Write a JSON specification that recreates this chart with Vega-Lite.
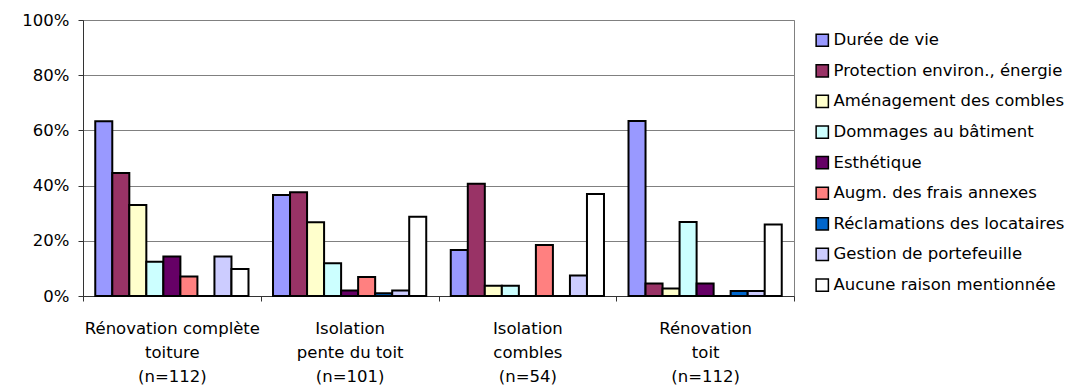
{
  "$schema": "https://vega.github.io/schema/vega-lite/v6.json",
  "width": 711,
  "height": 276,
  "autosize": {"type": "none"},
  "padding": {"left": 83, "top": 20, "right": 287, "bottom": 94},
  "background": "white",
  "config": {
    "font": "DejaVu Sans",
    "view": {"stroke": "#808080", "strokeWidth": 1},
    "axis": {
      "labelFont": "DejaVu Sans",
      "labelFontSize": 16.5,
      "labelColor": "black",
      "domainColor": "#333333",
      "tickColor": "#333333",
      "tickSize": 5,
      "title": null
    }
  },
  "data": {
    "values": [
      {"travaux": "Rénovation complète\ntoiture\n(n=112)", "raison": "Durée de vie", "part": 0.633},
      {"travaux": "Rénovation complète\ntoiture\n(n=112)", "raison": "Protection environ., énergie", "part": 0.446},
      {"travaux": "Rénovation complète\ntoiture\n(n=112)", "raison": "Aménagement des combles", "part": 0.330},
      {"travaux": "Rénovation complète\ntoiture\n(n=112)", "raison": "Dommages au bâtiment", "part": 0.124},
      {"travaux": "Rénovation complète\ntoiture\n(n=112)", "raison": "Esthétique", "part": 0.143},
      {"travaux": "Rénovation complète\ntoiture\n(n=112)", "raison": "Augm. des frais annexes", "part": 0.071},
      {"travaux": "Rénovation complète\ntoiture\n(n=112)", "raison": "Réclamations des locataires", "part": 0},
      {"travaux": "Rénovation complète\ntoiture\n(n=112)", "raison": "Gestion de portefeuille", "part": 0.143},
      {"travaux": "Rénovation complète\ntoiture\n(n=112)", "raison": "Aucune raison mentionnée", "part": 0.098},
      {"travaux": "Isolation\npente du toit\n(n=101)", "raison": "Durée de vie", "part": 0.366},
      {"travaux": "Isolation\npente du toit\n(n=101)", "raison": "Protection environ., énergie", "part": 0.376},
      {"travaux": "Isolation\npente du toit\n(n=101)", "raison": "Aménagement des combles", "part": 0.267},
      {"travaux": "Isolation\npente du toit\n(n=101)", "raison": "Dommages au bâtiment", "part": 0.119},
      {"travaux": "Isolation\npente du toit\n(n=101)", "raison": "Esthétique", "part": 0.020},
      {"travaux": "Isolation\npente du toit\n(n=101)", "raison": "Augm. des frais annexes", "part": 0.069},
      {"travaux": "Isolation\npente du toit\n(n=101)", "raison": "Réclamations des locataires", "part": 0.010},
      {"travaux": "Isolation\npente du toit\n(n=101)", "raison": "Gestion de portefeuille", "part": 0.020},
      {"travaux": "Isolation\npente du toit\n(n=101)", "raison": "Aucune raison mentionnée", "part": 0.287},
      {"travaux": "Isolation\ncombles\n(n=54)", "raison": "Durée de vie", "part": 0.167},
      {"travaux": "Isolation\ncombles\n(n=54)", "raison": "Protection environ., énergie", "part": 0.407},
      {"travaux": "Isolation\ncombles\n(n=54)", "raison": "Aménagement des combles", "part": 0.037},
      {"travaux": "Isolation\ncombles\n(n=54)", "raison": "Dommages au bâtiment", "part": 0.037},
      {"travaux": "Isolation\ncombles\n(n=54)", "raison": "Esthétique", "part": 0},
      {"travaux": "Isolation\ncombles\n(n=54)", "raison": "Augm. des frais annexes", "part": 0.185},
      {"travaux": "Isolation\ncombles\n(n=54)", "raison": "Réclamations des locataires", "part": 0},
      {"travaux": "Isolation\ncombles\n(n=54)", "raison": "Gestion de portefeuille", "part": 0.074},
      {"travaux": "Isolation\ncombles\n(n=54)", "raison": "Aucune raison mentionnée", "part": 0.370},
      {"travaux": "Rénovation\ntoit\n(n=112)", "raison": "Durée de vie", "part": 0.634},
      {"travaux": "Rénovation\ntoit\n(n=112)", "raison": "Protection environ., énergie", "part": 0.045},
      {"travaux": "Rénovation\ntoit\n(n=112)", "raison": "Aménagement des combles", "part": 0.027},
      {"travaux": "Rénovation\ntoit\n(n=112)", "raison": "Dommages au bâtiment", "part": 0.268},
      {"travaux": "Rénovation\ntoit\n(n=112)", "raison": "Esthétique", "part": 0.045},
      {"travaux": "Rénovation\ntoit\n(n=112)", "raison": "Augm. des frais annexes", "part": 0},
      {"travaux": "Rénovation\ntoit\n(n=112)", "raison": "Réclamations des locataires", "part": 0.018},
      {"travaux": "Rénovation\ntoit\n(n=112)", "raison": "Gestion de portefeuille", "part": 0.018},
      {"travaux": "Rénovation\ntoit\n(n=112)", "raison": "Aucune raison mentionnée", "part": 0.259}
    ]
  },
  "mark": {"type": "bar", "stroke": "black", "strokeWidth": 2},
  "encoding": {
    "x": {
      "field": "travaux",
      "type": "nominal",
      "sort": null,
      "scale": {"paddingInner": 0, "paddingOuter": 0},
      "axis": {
        "labelAngle": 0,
        "labelAlign": "center",
        "labelBaseline": "top",
        "labelPadding": 19,
        "labelLineHeight": 24,
        "labelLimit": 300,
        "tickBand": "extent",
        "labelExpr": "split(datum.label, '\\n')"
      }
    },
    "xOffset": {
      "field": "raison",
      "type": "nominal",
      "sort": null,
      "scale": {"paddingInner": 0, "paddingOuter": 0.72}
    },
    "y": {
      "field": "part",
      "type": "quantitative",
      "scale": {"domain": [0, 1], "nice": false},
      "axis": {
        "values": [0, 0.2, 0.4, 0.6, 0.8, 1],
        "format": ".0%",
        "labelPadding": 9,
        "grid": true,
        "gridColor": "#808080",
        "gridWidth": 1
      }
    },
    "color": {
      "field": "raison",
      "type": "nominal",
      "sort": null,
      "scale": {
        "domain": ["Durée de vie", "Protection environ., énergie", "Aménagement des combles", "Dommages au bâtiment", "Esthétique", "Augm. des frais annexes", "Réclamations des locataires", "Gestion de portefeuille", "Aucune raison mentionnée"],
        "range": ["#9999FF", "#993366", "#FFFFCC", "#CCFFFF", "#660066", "#FF8080", "#0066CC", "#CCCCFF", "#FFFFFF"]
      },
      "legend": {
        "title": null,
        "orient": "none",
        "legendX": 731,
        "legendY": 12,
        "padding": 0,
        "symbolType": "square",
        "symbolSize": 150,
        "symbolStrokeColor": "black",
        "symbolStrokeWidth": 1.5,
        "labelFont": "DejaVu Sans",
        "labelFontSize": 16.5,
        "labelColor": "black",
        "labelOffset": 3,
        "labelLimit": 400,
        "rowPadding": 11.6
      }
    }
  }
}
